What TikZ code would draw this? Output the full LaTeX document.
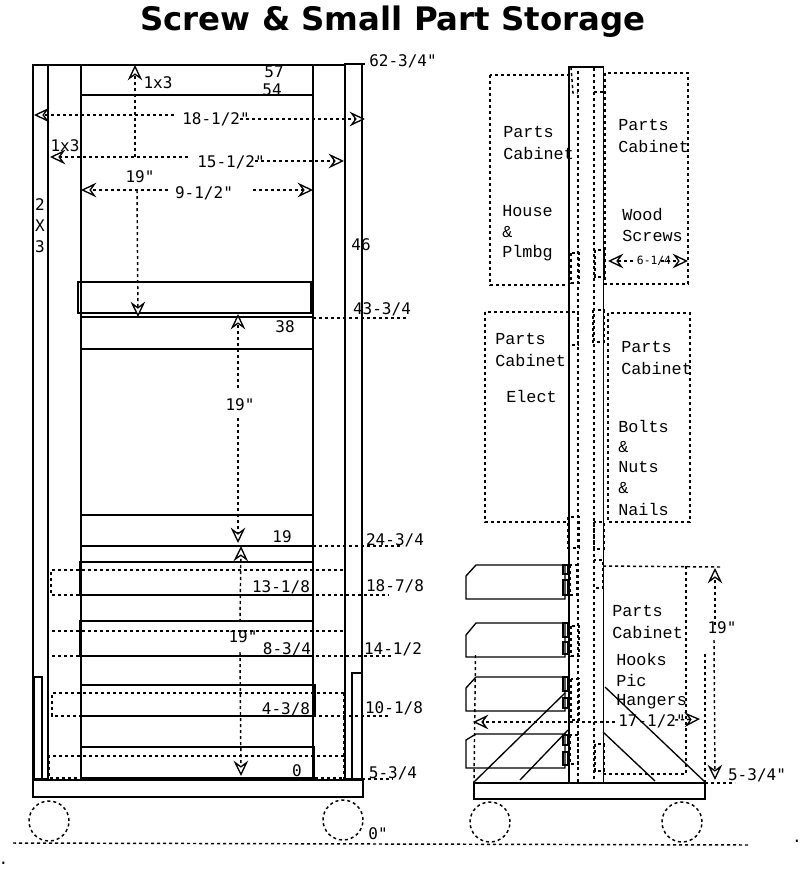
\documentclass[tikz,border=0pt]{standalone}
\usepackage{fontspec}
\usetikzlibrary{arrows.meta}
\setmainfont{DejaVu Sans}
\newfontfamily\dimfont{DejaVu Sans Mono}
\newfontfamily\partfont{Liberation Mono}
\tikzset{
    solid line/.style={line width=1pt},
    heavy line/.style={line width=1.8pt},
    dots/.style={line width=1.1pt, dash pattern=on 2.3pt off 2.2pt},
    dim/.style={dots, -{Stealth[open, length=11.5pt, width=11pt, inset=4pt, line width=1pt, fill=white]}},
    dimtext/.style={font=\dimfont\fontsize{12}{14}\selectfont, inner sep=0pt, yshift=-0.75pt},
    parttext/.style={font=\partfont\fontsize{12.6}{14}\selectfont, inner sep=0pt, anchor=west, yshift=0.4pt},
}
\begin{document}
\begin{tikzpicture}[x=0.75pt, y=-0.75pt]
    \useasboundingbox (0,0) rectangle (800,872);
    \fill[white] (0,0) rectangle (800,872);

    \node[font=\bfseries\fontsize{24.3}{28}\selectfont, inner sep=0pt] (title) at (393,22) {Screw \& Small Part Storage};

    % front view
    \draw[solid line] (33,65) rectangle (48,779);
    \draw[heavy line] (48,65) -- (48,779);
    \draw[solid line] (48,65) -- (81,65);
    \draw[solid line] (81,65) -- (81,779);
    \draw[solid line] (313,65) -- (313,779);
    \draw[solid line] (81,65) -- (345,65);
    \draw[solid line] (81,95) -- (313,95);
    \draw[heavy line] (345,64) -- (345,779);
    \draw[solid line] (345,64) rectangle (362,779);
    \draw[dots] (362,64) -- (368,64);

    \draw[solid line] (78,282) rectangle (311,313);
    \draw[solid line] (81,317) rectangle (313,349);
    \draw[solid line] (81,515) rectangle (313,546);
    \draw[solid line] (80,562) rectangle (313,595);
    \draw[solid line] (80,621) rectangle (313,656);
    \draw[solid line] (81,685) rectangle (315,716);
    \draw[solid line] (81,747) rectangle (314,778);

    \draw[solid line] (33,780) rectangle (363,797);
    \draw[solid line] (34,677) rectangle (42,779);
    \draw[solid line] (352,673) rectangle (362,779);

    \draw[dots] (313,318) -- (407,318);
    \draw[dots] (313,546) -- (403,546);
    \draw[dots] (343,570) -- (51,570) -- (51,595) -- (389,595);
    \draw[dots] (343,631) -- (50,631);
    \draw[dots] (52,656) -- (392,656);
    \draw[dots] (344,693) -- (52,693) -- (52,716) -- (388,716);
    \draw[dots] (344,693) -- (344,779);
    \draw[dots] (344,756) -- (49,756) -- (49,778) -- (81,778);
    \draw[dots] (315,778) -- (344,778);
    \draw[dots] (362,779) -- (393,779);

    \draw[dots] (49,821) circle (15pt);
    \draw[dots] (343,820) circle (15pt);
    \draw[dots] (13,843) -- (750,845);

    \draw[dim] (174,115) -- (34,115);
    \draw[dim] (240,119) -- (365,119);
    \draw[dim] (188,157) -- (50,157);
    \draw[dim] (255,161) -- (344,161);
    \draw[dim] (168,190) -- (81,190);
    \draw[dim] (253,190) -- (313,190);
    \draw[dim] (135,157) -- (135,65);
    \draw[dim] (137,190) -- (138,317);
    \draw[dim] (238,388) -- (238,314);
    \draw[dim] (238,418) -- (238,543);
    \draw[dim] (240,622) -- (241,546);
    \draw[dim] (240,652) -- (241,776);

    \node[dimtext] (topdim) at (403,60) {62-3/4"};
    \node[dimtext] (upper19) at (140,176) {19"};
    \node[dimtext] (rail) at (158,82) {1x3};
    \node[dimtext] (mark57) at (274,71) {57};
    \node[dimtext] (mark54) at (272,89) {54};
    \node[dimtext] (stile) at (65,145) {1x3};
    \node[dimtext] (outer) at (216,118) {18-1/2"};
    \node[dimtext] (inner) at (231,161) {15-1/2"};
    \node[dimtext] (shelf) at (204,192) {9-1/2"};
    \node[dimtext] (post2) at (40,204) {2};
    \node[dimtext] (postx) at (40,225) {X};
    \node[dimtext] (post3) at (40,246) {3};
    \node[dimtext] (mark46) at (361,244) {46};
    \node[dimtext] (upper) at (382,308) {43-3/4};
    \node[dimtext] (mark38) at (285,326) {38};
    \node[dimtext] (middle19) at (240,404) {19"};
    \node[dimtext] (mark19) at (282,536) {19};
    \node[dimtext] (middle) at (395,539) {24-3/4};
    \node[dimtext] (front13) at (281,586) {13-1/8};
    \node[dimtext] (side18) at (395,585) {18-7/8};
    \node[dimtext] (lower19) at (243,636) {19"};
    \node[dimtext] (front8) at (287,648) {8-3/4};
    \node[dimtext] (side14) at (393,648) {14-1/2};
    \node[dimtext] (front4) at (286,708) {4-3/8};
    \node[dimtext] (side10) at (394,707) {10-1/8};
    \node[dimtext] (mark0) at (297,770) {0};
    \node[dimtext] (side5) at (393,772) {5-3/4};
    \node[dimtext] (floor) at (378,833) {0"};
    \node[dimtext] (dotleft) at (3.5,862) {.};
    \node[dimtext] (dotright) at (797,840) {.};

    % side view
    \draw[solid line] (569,782) -- (569,67) -- (603.5,67) -- (603.5,782);
    \draw[dots] (578,782) -- (578,67) -- (594,67) -- (594,782);
    \draw[dots] (571,67) -- (573,93) -- (578,93);
    \draw[dots] (594,92) -- (604,92);
    \foreach \xa/\ya/\xb/\yb in {571/253/579/283, 595/250/604/277, 569/312/578/345, 593/310/604/342,
        568/517/579/548, 594/522/604/549, 594/560/603/588, 570/565/577/595, 571/626/579/656,
        571/679/579/720, 570/735/578/764, 595/744/604/771}
        \draw[dots] (\xa,\ya) rectangle (\xb,\yb);

    \draw[dots] (490,75) rectangle (569,285);
    \draw[dots] (605,73) rectangle (688,284);
    \draw[dots] (485,312) rectangle (569,522);
    \draw[dots] (608,313) rectangle (690,522);
    \draw[dots] (603,774) -- (686,774) -- (686,566);
    \draw[dots] (603,566) -- (720,567);

    \foreach \y/\yb/\hone/\htwo/\hthree/\hfour in {565/576/565/574/580/595, 623/635/623/637/642/654,
        677/688/677/691/698/708, 734/740/735/745/752/765} {
        \draw[solid line] (565,\y) -- (476,\y) -- (466,\yb) -- (466,\y+34) -- (565,\y+34) -- cycle;
        \draw[heavy line] (563,\hone) rectangle (568,\htwo);
        \draw[heavy line] (563,\hthree) rectangle (568,\hfour);
    }

    \draw[solid line] (474,783) rectangle (705,799);
    \draw[solid line] (474,782) -- (565,693);
    \draw[solid line] (520,780) -- (568,730);
    \draw[solid line] (605,687) -- (705,782);
    \draw[solid line] (603,732) -- (655,781);
    \draw[dots] (490,822) circle (15pt);
    \draw[dots] (682,822) circle (15pt);

    \draw[dots] (475.5,655) -- (474,782);
    \draw[dots] (705,654) -- (705,782);
    \draw[dots] (705,783) -- (735,783);
    \draw[dim] (615,722) -- (473,722);
    \draw[dim] (675,720) -- (700,719);
    \draw[dim] (715,625) -- (715,568);
    \draw[dim] (714,640) -- (715,780);
    \draw[dim] (633,261) -- (608,261);
    \draw[dim] (661,261) -- (688,261);

    \node[dimtext, font=\dimfont\fontsize{8.5}{10}\selectfont] (depth) at (654,260) {6-1/4};
    \node[dimtext] (width) at (652,720) {17-1/2"};
    \node[dimtext] (back19) at (722,627) {19"};
    \node[dimtext] (back5) at (757,774) {5-3/4"};

    \node[parttext] (housea) at (503,133) {Parts};
    \node[parttext] (houseb) at (503,154) {Cabinet};
    \node[parttext] (housec) at (502,212) {House};
    \node[parttext] (housed) at (502,233) {\&};
    \node[parttext] (housee) at (502,254) {Plmbg};
    \node[parttext] (wooda) at (618,126) {Parts};
    \node[parttext] (woodb) at (618,147) {Cabinet};
    \node[parttext] (woodc) at (622,215) {Wood};
    \node[parttext] (woodd) at (622,236) {Screws};
    \node[parttext] (electa) at (495,340) {Parts};
    \node[parttext] (electb) at (495,361) {Cabinet};
    \node[parttext] (electc) at (506,397) {Elect};
    \node[parttext] (boltsa) at (621,348) {Parts};
    \node[parttext] (boltsb) at (621,369) {Cabinet};
    \node[parttext] (boltsc) at (618,427) {Bolts};
    \node[parttext] (boltsd) at (618,448) {\&};
    \node[parttext] (boltse) at (618,468) {Nuts};
    \node[parttext] (boltsf) at (618,489) {\&};
    \node[parttext] (boltsg) at (618,510) {Nails};
    \node[parttext] (hooksa) at (612,612) {Parts};
    \node[parttext] (hooksb) at (612,633) {Cabinet};
    \node[parttext] (hooksc) at (616,660) {Hooks};
    \node[parttext] (hooksd) at (616,681) {Pic};
    \node[parttext] (hookse) at (616,702) {Hangers};

\end{tikzpicture}
\end{document}
